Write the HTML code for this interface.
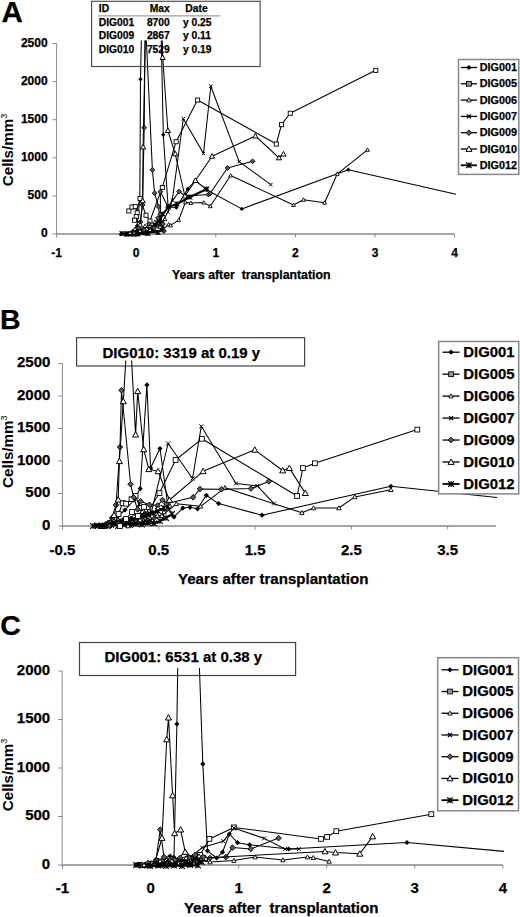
<!DOCTYPE html><html><head><meta charset="utf-8"><style>html,body{margin:0;padding:0;background:#fff;}svg{display:block;}</style></head><body>
<svg width="520" height="917" viewBox="0 0 520 917" font-family='"Liberation Sans", sans-serif'>
<rect width="520" height="917" fill="#fff"/>
<defs><clipPath id="cA"><rect x="56.6" y="40.5" width="399.5" height="195"/></clipPath><clipPath id="cB"><rect x="62.4" y="360.5" width="434.6" height="167"/></clipPath><clipPath id="cC"><rect x="62.2" y="668" width="441.8" height="199"/></clipPath></defs>
<text x="1.6" y="21.6" font-size="29.5" text-anchor="start" font-weight="bold" stroke="#000" stroke-width="0.25" >A</text>
<line x1="56.6" y1="43.5" x2="56.6" y2="234.5" stroke="#8a8a8a" stroke-width="1"/>
<line x1="52.6" y1="234.0" x2="56.6" y2="234.0" stroke="#8a8a8a" stroke-width="1"/>
<line x1="52.6" y1="195.9" x2="56.6" y2="195.9" stroke="#8a8a8a" stroke-width="1"/>
<line x1="52.6" y1="157.8" x2="56.6" y2="157.8" stroke="#8a8a8a" stroke-width="1"/>
<line x1="52.6" y1="119.69999999999999" x2="56.6" y2="119.69999999999999" stroke="#8a8a8a" stroke-width="1"/>
<line x1="52.6" y1="81.6" x2="56.6" y2="81.6" stroke="#8a8a8a" stroke-width="1"/>
<line x1="52.6" y1="43.5" x2="56.6" y2="43.5" stroke="#8a8a8a" stroke-width="1"/>
<text x="47.6" y="237.3" font-size="12" text-anchor="end" font-weight="bold" stroke="#000" stroke-width="0.25" >0</text>
<text x="47.6" y="199.20000000000002" font-size="12" text-anchor="end" font-weight="bold" stroke="#000" stroke-width="0.25" >500</text>
<text x="47.6" y="161.10000000000002" font-size="12" text-anchor="end" font-weight="bold" stroke="#000" stroke-width="0.25" >1000</text>
<text x="47.6" y="122.99999999999999" font-size="12" text-anchor="end" font-weight="bold" stroke="#000" stroke-width="0.25" >1500</text>
<text x="47.6" y="84.89999999999999" font-size="12" text-anchor="end" font-weight="bold" stroke="#000" stroke-width="0.25" >2000</text>
<text x="47.6" y="46.8" font-size="12" text-anchor="end" font-weight="bold" stroke="#000" stroke-width="0.25" >2500</text>
<line x1="56.6" y1="234" x2="454.6" y2="234" stroke="#888" stroke-width="1.4"/>
<line x1="56.599999999999994" y1="234" x2="56.599999999999994" y2="237.5" stroke="#8a8a8a" stroke-width="1"/>
<line x1="136.2" y1="234" x2="136.2" y2="237.5" stroke="#8a8a8a" stroke-width="1"/>
<line x1="215.79999999999998" y1="234" x2="215.79999999999998" y2="237.5" stroke="#8a8a8a" stroke-width="1"/>
<line x1="295.4" y1="234" x2="295.4" y2="237.5" stroke="#8a8a8a" stroke-width="1"/>
<line x1="375.0" y1="234" x2="375.0" y2="237.5" stroke="#8a8a8a" stroke-width="1"/>
<line x1="454.59999999999997" y1="234" x2="454.59999999999997" y2="237.5" stroke="#8a8a8a" stroke-width="1"/>
<text x="56.599999999999994" y="256.8" font-size="12" text-anchor="middle" font-weight="bold" stroke="#000" stroke-width="0.25" >-1</text>
<text x="136.2" y="256.8" font-size="12" text-anchor="middle" font-weight="bold" stroke="#000" stroke-width="0.25" >0</text>
<text x="215.79999999999998" y="256.8" font-size="12" text-anchor="middle" font-weight="bold" stroke="#000" stroke-width="0.25" >1</text>
<text x="295.4" y="256.8" font-size="12" text-anchor="middle" font-weight="bold" stroke="#000" stroke-width="0.25" >2</text>
<text x="375.0" y="256.8" font-size="12" text-anchor="middle" font-weight="bold" stroke="#000" stroke-width="0.25" >3</text>
<text x="454.59999999999997" y="256.8" font-size="12" text-anchor="middle" font-weight="bold" stroke="#000" stroke-width="0.25" >4</text>
<text x="251.2" y="278.5" font-size="12.3" text-anchor="middle" font-weight="bold" stroke="#000" stroke-width="0.25" >Years after&#160; transplantation</text>
<text transform="translate(12.6,150) rotate(-90)" font-size="15.2" font-weight="bold" text-anchor="middle">Cells/mm<tspan dy="-5.5" font-size="9" font-weight="normal">3</tspan></text>
<path d="M121.0 234.0 L127.0 233.5 L133.0 231.0 L137.0 226.0 L139.8 200.0 L140.5 79.3 L151.3 -429.0 L163.3 134.8 L168.1 206.9 L176.3 207.6 L187.7 188.9 L195.4 180.5 L206.9 190.0 L241.8 208.9 L348.3 169.7 L456.0 194.2" fill="none" stroke="#000" stroke-width="1.05" stroke-linejoin="round" clip-path="url(#cA)"/>
<path d="M118.8 234.0L121.0 231.8L123.2 234.0L121.0 236.2Z" fill="#000"/>
<path d="M124.8 233.5L127.0 231.3L129.2 233.5L127.0 235.7Z" fill="#000"/>
<path d="M130.8 231.0L133.0 228.8L135.2 231.0L133.0 233.2Z" fill="#000"/>
<path d="M134.8 226.0L137.0 223.8L139.2 226.0L137.0 228.2Z" fill="#000"/>
<path d="M137.6 200.0L139.8 197.8L142.0 200.0L139.8 202.2Z" fill="#000"/>
<path d="M138.3 79.3L140.5 77.1L142.7 79.3L140.5 81.5Z" fill="#000"/>
<path d="M161.1 134.8L163.3 132.6L165.5 134.8L163.3 137.0Z" fill="#000"/>
<path d="M165.9 206.9L168.1 204.7L170.3 206.9L168.1 209.1Z" fill="#000"/>
<path d="M174.1 207.6L176.3 205.4L178.5 207.6L176.3 209.8Z" fill="#000"/>
<path d="M185.5 188.9L187.7 186.7L189.9 188.9L187.7 191.1Z" fill="#000"/>
<path d="M193.2 180.5L195.4 178.3L197.6 180.5L195.4 182.7Z" fill="#000"/>
<path d="M204.7 190.0L206.9 187.8L209.1 190.0L206.9 192.2Z" fill="#000"/>
<path d="M239.6 208.9L241.8 206.7L244.0 208.9L241.8 211.1Z" fill="#000"/>
<path d="M346.1 169.7L348.3 167.5L350.5 169.7L348.3 171.9Z" fill="#000"/>
<path d="M128.8 210.9 L131.9 207.0 L135.2 206.5 L137.1 212.8 L136.2 216.6 L134.5 220.2 L140.0 198.4 L146.0 215.2 L149.9 221.0 L162.3 187.4 L176.1 141.7 L197.5 100.0 L276.3 144.0 L281.5 124.6 L290.2 113.2 L375.7 70.3" fill="none" stroke="#000" stroke-width="1.05" stroke-linejoin="round" clip-path="url(#cA)"/>
<rect x="126.8" y="208.9" width="4.1" height="4.1" fill="#fff" stroke="#000" stroke-width="0.9"/>
<rect x="129.9" y="205.0" width="4.1" height="4.1" fill="#fff" stroke="#000" stroke-width="0.9"/>
<rect x="133.2" y="204.5" width="4.1" height="4.1" fill="#fff" stroke="#000" stroke-width="0.9"/>
<rect x="135.1" y="210.8" width="4.1" height="4.1" fill="#fff" stroke="#000" stroke-width="0.9"/>
<rect x="134.2" y="214.6" width="4.1" height="4.1" fill="#fff" stroke="#000" stroke-width="0.9"/>
<rect x="132.5" y="218.2" width="4.1" height="4.1" fill="#fff" stroke="#000" stroke-width="0.9"/>
<rect x="138.0" y="196.4" width="4.1" height="4.1" fill="#fff" stroke="#000" stroke-width="0.9"/>
<rect x="144.0" y="213.2" width="4.1" height="4.1" fill="#fff" stroke="#000" stroke-width="0.9"/>
<rect x="147.9" y="219.0" width="4.1" height="4.1" fill="#fff" stroke="#000" stroke-width="0.9"/>
<rect x="160.3" y="185.4" width="4.1" height="4.1" fill="#fff" stroke="#000" stroke-width="0.9"/>
<rect x="174.1" y="139.7" width="4.1" height="4.1" fill="#fff" stroke="#000" stroke-width="0.9"/>
<rect x="195.5" y="98.0" width="4.1" height="4.1" fill="#fff" stroke="#000" stroke-width="0.9"/>
<rect x="274.3" y="142.0" width="4.1" height="4.1" fill="#fff" stroke="#000" stroke-width="0.9"/>
<rect x="279.5" y="122.6" width="4.1" height="4.1" fill="#fff" stroke="#000" stroke-width="0.9"/>
<rect x="288.2" y="111.2" width="4.1" height="4.1" fill="#fff" stroke="#000" stroke-width="0.9"/>
<rect x="373.7" y="68.3" width="4.1" height="4.1" fill="#fff" stroke="#000" stroke-width="0.9"/>
<path d="M138.0 234.0 L145.0 232.0 L152.0 231.0 L162.3 230.2 L168.6 224.4 L170.5 225.4 L178.7 220.1 L185.4 202.3 L190.8 203.0 L203.8 202.6 L210.3 206.2 L230.6 175.5 L293.5 205.0 L303.5 199.8 L324.6 202.7 L337.3 173.8 L367.5 149.8" fill="none" stroke="#000" stroke-width="1.05" stroke-linejoin="round" clip-path="url(#cA)"/>
<path d="M136.1 235.5L138.0 232.1L139.9 235.5Z" fill="#fff" stroke="#000" stroke-width="0.9"/>
<path d="M143.1 233.5L145.0 230.1L146.9 233.5Z" fill="#fff" stroke="#000" stroke-width="0.9"/>
<path d="M150.1 232.5L152.0 229.1L153.9 232.5Z" fill="#fff" stroke="#000" stroke-width="0.9"/>
<path d="M160.4 231.7L162.3 228.3L164.2 231.7Z" fill="#fff" stroke="#000" stroke-width="0.9"/>
<path d="M166.7 225.9L168.6 222.5L170.5 225.9Z" fill="#fff" stroke="#000" stroke-width="0.9"/>
<path d="M168.6 226.9L170.5 223.5L172.4 226.9Z" fill="#fff" stroke="#000" stroke-width="0.9"/>
<path d="M176.8 221.6L178.7 218.2L180.6 221.6Z" fill="#fff" stroke="#000" stroke-width="0.9"/>
<path d="M183.5 203.8L185.4 200.4L187.3 203.8Z" fill="#fff" stroke="#000" stroke-width="0.9"/>
<path d="M188.9 204.5L190.8 201.1L192.7 204.5Z" fill="#fff" stroke="#000" stroke-width="0.9"/>
<path d="M201.9 204.1L203.8 200.7L205.7 204.1Z" fill="#fff" stroke="#000" stroke-width="0.9"/>
<path d="M208.4 207.7L210.3 204.3L212.2 207.7Z" fill="#fff" stroke="#000" stroke-width="0.9"/>
<path d="M228.7 177.0L230.6 173.6L232.5 177.0Z" fill="#fff" stroke="#000" stroke-width="0.9"/>
<path d="M291.6 206.5L293.5 203.1L295.4 206.5Z" fill="#fff" stroke="#000" stroke-width="0.9"/>
<path d="M301.6 201.3L303.5 197.9L305.4 201.3Z" fill="#fff" stroke="#000" stroke-width="0.9"/>
<path d="M322.7 204.2L324.6 200.8L326.5 204.2Z" fill="#fff" stroke="#000" stroke-width="0.9"/>
<path d="M335.4 175.3L337.3 171.9L339.2 175.3Z" fill="#fff" stroke="#000" stroke-width="0.9"/>
<path d="M365.6 151.3L367.5 147.9L369.4 151.3Z" fill="#fff" stroke="#000" stroke-width="0.9"/>
<path d="M128.0 234.0 L135.0 233.5 L142.0 232.5 L150.0 230.0 L156.0 226.0 L162.0 222.0 L168.0 212.0 L172.3 200.0 L183.3 118.7 L203.5 153.6 L210.8 86.2 L239.2 161.6 L270.8 184.6" fill="none" stroke="#000" stroke-width="1.05" stroke-linejoin="round" clip-path="url(#cA)"/>
<path d="M126.3 232.3L129.7 235.7M126.3 235.7L129.7 232.3" stroke="#000" stroke-width="1"/>
<path d="M133.3 231.8L136.7 235.2M133.3 235.2L136.7 231.8" stroke="#000" stroke-width="1"/>
<path d="M140.3 230.8L143.7 234.2M140.3 234.2L143.7 230.8" stroke="#000" stroke-width="1"/>
<path d="M148.3 228.3L151.7 231.7M148.3 231.7L151.7 228.3" stroke="#000" stroke-width="1"/>
<path d="M154.3 224.3L157.7 227.7M154.3 227.7L157.7 224.3" stroke="#000" stroke-width="1"/>
<path d="M160.3 220.3L163.7 223.7M160.3 223.7L163.7 220.3" stroke="#000" stroke-width="1"/>
<path d="M166.3 210.3L169.7 213.7M166.3 213.7L169.7 210.3" stroke="#000" stroke-width="1"/>
<path d="M170.6 198.3L174.0 201.7M170.6 201.7L174.0 198.3" stroke="#000" stroke-width="1"/>
<path d="M181.6 117.0L185.0 120.4M181.6 120.4L185.0 117.0" stroke="#000" stroke-width="1"/>
<path d="M201.8 151.9L205.2 155.3M201.8 155.3L205.2 151.9" stroke="#000" stroke-width="1"/>
<path d="M209.1 84.5L212.5 87.9M209.1 87.9L212.5 84.5" stroke="#000" stroke-width="1"/>
<path d="M237.5 159.9L240.9 163.3M237.5 163.3L240.9 159.9" stroke="#000" stroke-width="1"/>
<path d="M269.1 182.9L272.5 186.3M269.1 186.3L272.5 182.9" stroke="#000" stroke-width="1"/>
<path d="M126.0 234.0 L132.0 233.0 L137.0 229.0 L140.5 222.0 L142.5 205.0 L144.2 127.7 L145.2 15.5 L152.4 169.9 L154.6 193.2 L158.5 206.6 L160.4 226.3 L164.0 231.0 L160.4 214.3 L160.4 191.7 L168.1 206.9 L179.1 191.5 L185.4 196.2 L208.5 194.6 L210.2 193.3 L227.5 168.0 L252.6 161.3" fill="none" stroke="#000" stroke-width="1.05" stroke-linejoin="round" clip-path="url(#cA)"/>
<path d="M123.6 234.0L126.0 231.6L128.4 234.0L126.0 236.4Z" fill="#5a5a5a" stroke="#000" stroke-width="0.9"/>
<path d="M129.6 233.0L132.0 230.6L134.4 233.0L132.0 235.4Z" fill="#5a5a5a" stroke="#000" stroke-width="0.9"/>
<path d="M134.6 229.0L137.0 226.6L139.4 229.0L137.0 231.4Z" fill="#5a5a5a" stroke="#000" stroke-width="0.9"/>
<path d="M138.1 222.0L140.5 219.6L142.9 222.0L140.5 224.4Z" fill="#5a5a5a" stroke="#000" stroke-width="0.9"/>
<path d="M140.1 205.0L142.5 202.6L144.9 205.0L142.5 207.4Z" fill="#5a5a5a" stroke="#000" stroke-width="0.9"/>
<path d="M141.8 127.7L144.2 125.3L146.6 127.7L144.2 130.1Z" fill="#5a5a5a" stroke="#000" stroke-width="0.9"/>
<path d="M150.0 169.9L152.4 167.5L154.8 169.9L152.4 172.3Z" fill="#5a5a5a" stroke="#000" stroke-width="0.9"/>
<path d="M152.2 193.2L154.6 190.8L157.0 193.2L154.6 195.6Z" fill="#5a5a5a" stroke="#000" stroke-width="0.9"/>
<path d="M156.1 206.6L158.5 204.2L160.9 206.6L158.5 209.0Z" fill="#5a5a5a" stroke="#000" stroke-width="0.9"/>
<path d="M158.0 226.3L160.4 223.9L162.8 226.3L160.4 228.7Z" fill="#5a5a5a" stroke="#000" stroke-width="0.9"/>
<path d="M161.6 231.0L164.0 228.6L166.4 231.0L164.0 233.4Z" fill="#5a5a5a" stroke="#000" stroke-width="0.9"/>
<path d="M158.0 214.3L160.4 211.9L162.8 214.3L160.4 216.7Z" fill="#5a5a5a" stroke="#000" stroke-width="0.9"/>
<path d="M158.0 191.7L160.4 189.3L162.8 191.7L160.4 194.1Z" fill="#5a5a5a" stroke="#000" stroke-width="0.9"/>
<path d="M165.7 206.9L168.1 204.5L170.5 206.9L168.1 209.3Z" fill="#5a5a5a" stroke="#000" stroke-width="0.9"/>
<path d="M176.7 191.5L179.1 189.1L181.5 191.5L179.1 193.9Z" fill="#5a5a5a" stroke="#000" stroke-width="0.9"/>
<path d="M183.0 196.2L185.4 193.8L187.8 196.2L185.4 198.6Z" fill="#5a5a5a" stroke="#000" stroke-width="0.9"/>
<path d="M206.1 194.6L208.5 192.2L210.9 194.6L208.5 197.0Z" fill="#5a5a5a" stroke="#000" stroke-width="0.9"/>
<path d="M207.8 193.3L210.2 190.9L212.6 193.3L210.2 195.7Z" fill="#5a5a5a" stroke="#000" stroke-width="0.9"/>
<path d="M225.1 168.0L227.5 165.6L229.9 168.0L227.5 170.4Z" fill="#5a5a5a" stroke="#000" stroke-width="0.9"/>
<path d="M250.2 161.3L252.6 158.9L255.0 161.3L252.6 163.7Z" fill="#5a5a5a" stroke="#000" stroke-width="0.9"/>
<path d="M133.0 234.0 L137.0 232.0 L140.0 225.0 L142.7 200.8 L143.1 147.0 L153.0 -340.0 L162.7 57.5 L167.9 130.5 L175.2 153.8 L184.9 196.0 L195.4 180.5 L212.1 156.2 L255.4 136.0 L279.0 157.8 L283.5 154.0" fill="none" stroke="#000" stroke-width="1.05" stroke-linejoin="round" clip-path="url(#cA)"/>
<path d="M130.4 236.0L133.0 231.4L135.6 236.0Z" fill="#fff" stroke="#000" stroke-width="1"/>
<path d="M134.4 234.0L137.0 229.4L139.6 234.0Z" fill="#fff" stroke="#000" stroke-width="1"/>
<path d="M137.4 227.0L140.0 222.4L142.6 227.0Z" fill="#fff" stroke="#000" stroke-width="1"/>
<path d="M140.1 202.8L142.7 198.2L145.2 202.8Z" fill="#fff" stroke="#000" stroke-width="1"/>
<path d="M140.5 149.0L143.1 144.4L145.7 149.0Z" fill="#fff" stroke="#000" stroke-width="1"/>
<path d="M160.1 59.5L162.7 55.0L165.2 59.5Z" fill="#fff" stroke="#000" stroke-width="1"/>
<path d="M165.3 132.5L167.9 128.0L170.5 132.5Z" fill="#fff" stroke="#000" stroke-width="1"/>
<path d="M172.6 155.8L175.2 151.2L177.8 155.8Z" fill="#fff" stroke="#000" stroke-width="1"/>
<path d="M182.3 198.0L184.9 193.4L187.5 198.0Z" fill="#fff" stroke="#000" stroke-width="1"/>
<path d="M192.8 182.5L195.4 177.9L198.0 182.5Z" fill="#fff" stroke="#000" stroke-width="1"/>
<path d="M209.5 158.2L212.1 153.6L214.7 158.2Z" fill="#fff" stroke="#000" stroke-width="1"/>
<path d="M252.8 138.0L255.4 133.4L257.9 138.0Z" fill="#fff" stroke="#000" stroke-width="1"/>
<path d="M276.4 159.8L279.0 155.2L281.6 159.8Z" fill="#fff" stroke="#000" stroke-width="1"/>
<path d="M280.9 156.0L283.5 151.4L286.1 156.0Z" fill="#fff" stroke="#000" stroke-width="1"/>
<path d="M122.0 233.5 L126.8 234.0 L131.0 233.5 L136.0 232.0 L141.0 231.0 L145.0 233.0 L150.0 229.0 L155.0 225.0 L159.2 220.8 L163.0 214.0 L168.5 206.9 L176.9 204.0 L190.0 197.0 L206.9 189.0" fill="none" stroke="#000" stroke-width="2.0" stroke-linejoin="round" clip-path="url(#cA)"/>
<path d="M119.6 231.1L124.4 235.9M119.6 235.9L124.4 231.1M122.0 231.1L122.0 235.9" stroke="#000" stroke-width="1.2"/>
<path d="M124.4 231.6L129.2 236.4M124.4 236.4L129.2 231.6M126.8 231.6L126.8 236.4" stroke="#000" stroke-width="1.2"/>
<path d="M128.6 231.1L133.4 235.9M128.6 235.9L133.4 231.1M131.0 231.1L131.0 235.9" stroke="#000" stroke-width="1.2"/>
<path d="M133.6 229.6L138.4 234.4M133.6 234.4L138.4 229.6M136.0 229.6L136.0 234.4" stroke="#000" stroke-width="1.2"/>
<path d="M138.6 228.6L143.4 233.4M138.6 233.4L143.4 228.6M141.0 228.6L141.0 233.4" stroke="#000" stroke-width="1.2"/>
<path d="M142.6 230.6L147.4 235.4M142.6 235.4L147.4 230.6M145.0 230.6L145.0 235.4" stroke="#000" stroke-width="1.2"/>
<path d="M147.6 226.6L152.4 231.4M147.6 231.4L152.4 226.6M150.0 226.6L150.0 231.4" stroke="#000" stroke-width="1.2"/>
<path d="M152.6 222.6L157.4 227.4M152.6 227.4L157.4 222.6M155.0 222.6L155.0 227.4" stroke="#000" stroke-width="1.2"/>
<path d="M156.8 218.4L161.6 223.2M156.8 223.2L161.6 218.4M159.2 218.4L159.2 223.2" stroke="#000" stroke-width="1.2"/>
<path d="M160.6 211.6L165.4 216.4M160.6 216.4L165.4 211.6M163.0 211.6L163.0 216.4" stroke="#000" stroke-width="1.2"/>
<path d="M166.1 204.5L170.9 209.3M166.1 209.3L170.9 204.5M168.5 204.5L168.5 209.3" stroke="#000" stroke-width="1.2"/>
<path d="M174.5 201.6L179.3 206.4M174.5 206.4L179.3 201.6M176.9 201.6L176.9 206.4" stroke="#000" stroke-width="1.2"/>
<path d="M187.6 194.6L192.4 199.4M187.6 199.4L192.4 194.6M190.0 194.6L190.0 199.4" stroke="#000" stroke-width="1.2"/>
<path d="M204.5 186.6L209.3 191.4M204.5 191.4L209.3 186.6M206.9 186.6L206.9 191.4" stroke="#000" stroke-width="1.2"/>
<path d="M128.0 234.0 L133.0 233.5 L138.0 234.0 L143.0 232.5 L148.0 233.5 L153.0 231.0 L158.0 232.5 L162.0 229.0" fill="none" stroke="#000" stroke-width="2.0" stroke-linejoin="round" clip-path="url(#cA)"/>
<path d="M125.6 231.6L130.4 236.4M125.6 236.4L130.4 231.6M128.0 231.6L128.0 236.4" stroke="#000" stroke-width="1.2"/>
<path d="M130.6 231.1L135.4 235.9M130.6 235.9L135.4 231.1M133.0 231.1L133.0 235.9" stroke="#000" stroke-width="1.2"/>
<path d="M135.6 231.6L140.4 236.4M135.6 236.4L140.4 231.6M138.0 231.6L138.0 236.4" stroke="#000" stroke-width="1.2"/>
<path d="M140.6 230.1L145.4 234.9M140.6 234.9L145.4 230.1M143.0 230.1L143.0 234.9" stroke="#000" stroke-width="1.2"/>
<path d="M145.6 231.1L150.4 235.9M145.6 235.9L150.4 231.1M148.0 231.1L148.0 235.9" stroke="#000" stroke-width="1.2"/>
<path d="M150.6 228.6L155.4 233.4M150.6 233.4L155.4 228.6M153.0 228.6L153.0 233.4" stroke="#000" stroke-width="1.2"/>
<path d="M155.6 230.1L160.4 234.9M155.6 234.9L160.4 230.1M158.0 230.1L158.0 234.9" stroke="#000" stroke-width="1.2"/>
<path d="M159.6 226.6L164.4 231.4M159.6 231.4L164.4 226.6M162.0 226.6L162.0 231.4" stroke="#000" stroke-width="1.2"/>
<path d="M130.0 233.0 L135.0 229.0 L140.0 231.0 L145.0 226.0 L150.0 230.0 L155.0 222.0 L160.0 227.0 L165.0 219.0" fill="none" stroke="#000" stroke-width="1.05" stroke-linejoin="round" clip-path="url(#cA)"/>
<path d="M128.1 234.5L130.0 231.1L131.9 234.5Z" fill="#fff" stroke="#000" stroke-width="0.9"/>
<path d="M133.1 230.5L135.0 227.1L136.9 230.5Z" fill="#fff" stroke="#000" stroke-width="0.9"/>
<path d="M138.1 232.5L140.0 229.1L141.9 232.5Z" fill="#fff" stroke="#000" stroke-width="0.9"/>
<path d="M143.1 227.5L145.0 224.1L146.9 227.5Z" fill="#fff" stroke="#000" stroke-width="0.9"/>
<path d="M148.1 231.5L150.0 228.1L151.9 231.5Z" fill="#fff" stroke="#000" stroke-width="0.9"/>
<path d="M153.1 223.5L155.0 220.1L156.9 223.5Z" fill="#fff" stroke="#000" stroke-width="0.9"/>
<path d="M158.1 228.5L160.0 225.1L161.9 228.5Z" fill="#fff" stroke="#000" stroke-width="0.9"/>
<path d="M163.1 220.5L165.0 217.1L166.9 220.5Z" fill="#fff" stroke="#000" stroke-width="0.9"/>
<path d="M134.0 233.0 L139.0 228.0 L144.0 230.0 L149.0 224.0 L154.0 228.0 L158.0 218.0 L163.0 224.0" fill="none" stroke="#000" stroke-width="1.05" stroke-linejoin="round" clip-path="url(#cA)"/>
<path d="M131.6 233.0L134.0 230.6L136.4 233.0L134.0 235.4Z" fill="#5a5a5a" stroke="#000" stroke-width="0.9"/>
<path d="M136.6 228.0L139.0 225.6L141.4 228.0L139.0 230.4Z" fill="#5a5a5a" stroke="#000" stroke-width="0.9"/>
<path d="M141.6 230.0L144.0 227.6L146.4 230.0L144.0 232.4Z" fill="#5a5a5a" stroke="#000" stroke-width="0.9"/>
<path d="M146.6 224.0L149.0 221.6L151.4 224.0L149.0 226.4Z" fill="#5a5a5a" stroke="#000" stroke-width="0.9"/>
<path d="M151.6 228.0L154.0 225.6L156.4 228.0L154.0 230.4Z" fill="#5a5a5a" stroke="#000" stroke-width="0.9"/>
<path d="M155.6 218.0L158.0 215.6L160.4 218.0L158.0 220.4Z" fill="#5a5a5a" stroke="#000" stroke-width="0.9"/>
<path d="M160.6 224.0L163.0 221.6L165.4 224.0L163.0 226.4Z" fill="#5a5a5a" stroke="#000" stroke-width="0.9"/>
<rect x="91.6" y="1.3" width="168.5" height="65.2" stroke="#4a4a4a" stroke-width="1.15" fill="none"/>
<line x1="98" y1="15.9" x2="220.5" y2="15.9" stroke="#888" stroke-width="1"/>
<text x="98.8" y="11.8" font-size="10.3" text-anchor="start" font-weight="bold" stroke="#000" stroke-width="0.25" >ID</text>
<text x="169.8" y="11.8" font-size="10.3" text-anchor="end" font-weight="bold" stroke="#000" stroke-width="0.25" >Max</text>
<text x="185.3" y="11.8" font-size="10.3" text-anchor="start" font-weight="bold" stroke="#000" stroke-width="0.25" >Date</text>
<text x="98.8" y="25.6" font-size="10.3" text-anchor="start" font-weight="bold" stroke="#000" stroke-width="0.25" >DIG001</text>
<text x="169.8" y="25.6" font-size="10.3" text-anchor="end" font-weight="bold" stroke="#000" stroke-width="0.25" >8700</text>
<text x="182.9" y="25.6" font-size="10.3" text-anchor="start" font-weight="bold" stroke="#000" stroke-width="0.25" >y&#160;0.25</text>
<text x="98.8" y="38.9" font-size="10.3" text-anchor="start" font-weight="bold" stroke="#000" stroke-width="0.25" >DIG009</text>
<text x="169.8" y="38.9" font-size="10.3" text-anchor="end" font-weight="bold" stroke="#000" stroke-width="0.25" >2867</text>
<text x="182.9" y="38.9" font-size="10.3" text-anchor="start" font-weight="bold" stroke="#000" stroke-width="0.25" >y&#160;0.11</text>
<text x="98.8" y="52.8" font-size="10.3" text-anchor="start" font-weight="bold" stroke="#000" stroke-width="0.25" >DIG010</text>
<text x="169.8" y="52.8" font-size="10.3" text-anchor="end" font-weight="bold" stroke="#000" stroke-width="0.25" >7529</text>
<text x="182.9" y="52.8" font-size="10.3" text-anchor="start" font-weight="bold" stroke="#000" stroke-width="0.25" >y&#160;0.19</text>
<rect x="458.5" y="59.5" width="60.299999999999955" height="114.9" stroke="#888" stroke-width="1.5" fill="#fff"/>
<line x1="460.8" y1="67.5" x2="477" y2="67.5" stroke="#000" stroke-width="1.3"/>
<path d="M466.3 67.5L468.9 64.9L471.5 67.5L468.9 70.1Z" fill="#000"/>
<text x="479.7" y="71.06400000000001" font-size="10.8" text-anchor="start" font-weight="bold" stroke="#000" stroke-width="0.25" >DIG001</text>
<line x1="460.8" y1="83.8" x2="477" y2="83.8" stroke="#000" stroke-width="1.3"/>
<rect x="466.5" y="81.4" width="4.8" height="4.8" fill="#999" stroke="#000" stroke-width="0.9"/>
<text x="479.7" y="87.364" font-size="10.8" text-anchor="start" font-weight="bold" stroke="#000" stroke-width="0.25" >DIG005</text>
<line x1="460.8" y1="100.1" x2="477" y2="100.1" stroke="#000" stroke-width="1.3"/>
<path d="M466.7 101.9L468.9 97.9L471.1 101.9Z" fill="#fff" stroke="#000" stroke-width="0.9"/>
<text x="479.7" y="103.664" font-size="10.8" text-anchor="start" font-weight="bold" stroke="#000" stroke-width="0.25" >DIG006</text>
<line x1="460.8" y1="116.4" x2="477" y2="116.4" stroke="#000" stroke-width="1.3"/>
<path d="M466.9 114.4L470.9 118.4M466.9 118.4L470.9 114.4" stroke="#000" stroke-width="1.3"/>
<text x="479.7" y="119.96400000000001" font-size="10.8" text-anchor="start" font-weight="bold" stroke="#000" stroke-width="0.25" >DIG007</text>
<line x1="460.8" y1="132.7" x2="477" y2="132.7" stroke="#000" stroke-width="1.3"/>
<path d="M466.1 132.7L468.9 129.9L471.7 132.7L468.9 135.5Z" fill="#5a5a5a" stroke="#000" stroke-width="0.9"/>
<text x="479.7" y="136.26399999999998" font-size="10.8" text-anchor="start" font-weight="bold" stroke="#000" stroke-width="0.25" >DIG009</text>
<line x1="460.8" y1="149.0" x2="477" y2="149.0" stroke="#000" stroke-width="1.3"/>
<path d="M465.9 151.4L468.9 146.0L471.9 151.4Z" fill="#fff" stroke="#000" stroke-width="1"/>
<text x="479.7" y="152.564" font-size="10.8" text-anchor="start" font-weight="bold" stroke="#000" stroke-width="0.25" >DIG010</text>
<line x1="460.8" y1="165.3" x2="477" y2="165.3" stroke="#000" stroke-width="1.8"/>
<path d="M466.1 162.5L471.7 168.1M466.1 168.1L471.7 162.5M468.9 162.5L468.9 168.1" stroke="#000" stroke-width="1.2"/>
<text x="479.7" y="168.864" font-size="10.8" text-anchor="start" font-weight="bold" stroke="#000" stroke-width="0.25" >DIG012</text>
<text x="0" y="329.4" font-size="28.5" text-anchor="start" font-weight="bold" stroke="#000" stroke-width="0.25" >B</text>
<line x1="62.4" y1="363.5" x2="62.4" y2="526.5" stroke="#8a8a8a" stroke-width="1"/>
<line x1="58.4" y1="526.0" x2="62.4" y2="526.0" stroke="#8a8a8a" stroke-width="1"/>
<line x1="58.4" y1="493.5" x2="62.4" y2="493.5" stroke="#8a8a8a" stroke-width="1"/>
<line x1="58.4" y1="461.0" x2="62.4" y2="461.0" stroke="#8a8a8a" stroke-width="1"/>
<line x1="58.4" y1="428.5" x2="62.4" y2="428.5" stroke="#8a8a8a" stroke-width="1"/>
<line x1="58.4" y1="396.0" x2="62.4" y2="396.0" stroke="#8a8a8a" stroke-width="1"/>
<line x1="58.4" y1="363.5" x2="62.4" y2="363.5" stroke="#8a8a8a" stroke-width="1"/>
<text x="50.4" y="529.6" font-size="15" text-anchor="end" font-weight="bold" stroke="#000" stroke-width="0.25" >0</text>
<text x="50.4" y="497.1" font-size="15" text-anchor="end" font-weight="bold" stroke="#000" stroke-width="0.25" >500</text>
<text x="50.4" y="464.6" font-size="15" text-anchor="end" font-weight="bold" stroke="#000" stroke-width="0.25" >1000</text>
<text x="50.4" y="432.1" font-size="15" text-anchor="end" font-weight="bold" stroke="#000" stroke-width="0.25" >1500</text>
<text x="50.4" y="399.6" font-size="15" text-anchor="end" font-weight="bold" stroke="#000" stroke-width="0.25" >2000</text>
<text x="50.4" y="367.1" font-size="15" text-anchor="end" font-weight="bold" stroke="#000" stroke-width="0.25" >2500</text>
<line x1="62.4" y1="526" x2="495.9" y2="526" stroke="#888" stroke-width="1.4"/>
<line x1="62.5" y1="526" x2="62.5" y2="529.5" stroke="#8a8a8a" stroke-width="1"/>
<line x1="158.8" y1="526" x2="158.8" y2="529.5" stroke="#8a8a8a" stroke-width="1"/>
<line x1="255.1" y1="526" x2="255.1" y2="529.5" stroke="#8a8a8a" stroke-width="1"/>
<line x1="351.4" y1="526" x2="351.4" y2="529.5" stroke="#8a8a8a" stroke-width="1"/>
<line x1="447.7" y1="526" x2="447.7" y2="529.5" stroke="#8a8a8a" stroke-width="1"/>
<text x="62.5" y="554.5" font-size="15" text-anchor="middle" font-weight="bold" stroke="#000" stroke-width="0.25" >-0.5</text>
<text x="158.8" y="554.5" font-size="15" text-anchor="middle" font-weight="bold" stroke="#000" stroke-width="0.25" >0.5</text>
<text x="255.1" y="554.5" font-size="15" text-anchor="middle" font-weight="bold" stroke="#000" stroke-width="0.25" >1.5</text>
<text x="351.4" y="554.5" font-size="15" text-anchor="middle" font-weight="bold" stroke="#000" stroke-width="0.25" >2.5</text>
<text x="447.7" y="554.5" font-size="15" text-anchor="middle" font-weight="bold" stroke="#000" stroke-width="0.25" >3.5</text>
<text x="273.2" y="584" font-size="15.1" text-anchor="middle" font-weight="bold" stroke="#000" stroke-width="0.25" >Years after transplantation</text>
<text transform="translate(12.6,451.7) rotate(-90)" font-size="15.2" font-weight="bold" text-anchor="middle">Cells/mm<tspan dy="-5.5" font-size="9" font-weight="normal">3</tspan></text>
<rect x="76.6" y="337.7" width="228" height="28.3" stroke="#444" stroke-width="1.2" fill="#fff"/>
<path d="M96.0 526.0 L103.0 525.5 L110.0 523.0 L117.0 517.0 L125.0 510.0 L134.0 500.0 L140.2 488.6 L146.9 384.9 L150.6 468.1 L160.0 448.5 L168.1 507.5 L174.0 516.9 L182.8 508.1 L190.0 507.3 L197.5 508.8 L206.3 495.3 L218.6 503.6 L262.0 515.2 L390.9 486.3 L497.0 497.6" fill="none" stroke="#000" stroke-width="1.05" stroke-linejoin="round" clip-path="url(#cB)"/>
<path d="M93.4 526.0L96.0 523.4L98.6 526.0L96.0 528.6Z" fill="#000"/>
<path d="M100.4 525.5L103.0 522.9L105.6 525.5L103.0 528.1Z" fill="#000"/>
<path d="M107.4 523.0L110.0 520.4L112.6 523.0L110.0 525.6Z" fill="#000"/>
<path d="M114.4 517.0L117.0 514.4L119.6 517.0L117.0 519.6Z" fill="#000"/>
<path d="M122.4 510.0L125.0 507.4L127.6 510.0L125.0 512.6Z" fill="#000"/>
<path d="M131.4 500.0L134.0 497.4L136.6 500.0L134.0 502.6Z" fill="#000"/>
<path d="M137.6 488.6L140.2 486.0L142.8 488.6L140.2 491.2Z" fill="#000"/>
<path d="M144.3 384.9L146.9 382.3L149.5 384.9L146.9 387.5Z" fill="#000"/>
<path d="M148.0 468.1L150.6 465.5L153.2 468.1L150.6 470.7Z" fill="#000"/>
<path d="M157.4 448.5L160.0 445.9L162.6 448.5L160.0 451.1Z" fill="#000"/>
<path d="M165.5 507.5L168.1 504.9L170.7 507.5L168.1 510.1Z" fill="#000"/>
<path d="M171.4 516.9L174.0 514.3L176.6 516.9L174.0 519.5Z" fill="#000"/>
<path d="M180.2 508.1L182.8 505.5L185.4 508.1L182.8 510.7Z" fill="#000"/>
<path d="M187.4 507.3L190.0 504.7L192.6 507.3L190.0 509.9Z" fill="#000"/>
<path d="M194.9 508.8L197.5 506.2L200.1 508.8L197.5 511.4Z" fill="#000"/>
<path d="M203.7 495.3L206.3 492.7L208.9 495.3L206.3 497.9Z" fill="#000"/>
<path d="M216.0 503.6L218.6 501.0L221.2 503.6L218.6 506.2Z" fill="#000"/>
<path d="M259.4 515.2L262.0 512.6L264.6 515.2L262.0 517.8Z" fill="#000"/>
<path d="M388.3 486.3L390.9 483.7L393.5 486.3L390.9 488.9Z" fill="#000"/>
<path d="M104.0 526.0 L110.0 523.0 L114.0 519.0 L118.6 514.0 L122.6 503.1 L126.1 503.7 L131.5 499.2 L135.6 495.8 L140.0 508.0 L148.0 512.0 L159.4 493.1 L175.6 460.0 L201.9 438.8 L297.1 496.0 L302.9 468.1 L314.9 463.3 L417.3 429.6" fill="none" stroke="#000" stroke-width="1.05" stroke-linejoin="round" clip-path="url(#cB)"/>
<rect x="101.6" y="523.6" width="4.8" height="4.8" fill="#fff" stroke="#000" stroke-width="0.9"/>
<rect x="107.6" y="520.6" width="4.8" height="4.8" fill="#fff" stroke="#000" stroke-width="0.9"/>
<rect x="111.6" y="516.6" width="4.8" height="4.8" fill="#fff" stroke="#000" stroke-width="0.9"/>
<rect x="116.2" y="511.6" width="4.8" height="4.8" fill="#fff" stroke="#000" stroke-width="0.9"/>
<rect x="120.2" y="500.7" width="4.8" height="4.8" fill="#fff" stroke="#000" stroke-width="0.9"/>
<rect x="123.7" y="501.3" width="4.8" height="4.8" fill="#fff" stroke="#000" stroke-width="0.9"/>
<rect x="129.1" y="496.8" width="4.8" height="4.8" fill="#fff" stroke="#000" stroke-width="0.9"/>
<rect x="133.2" y="493.4" width="4.8" height="4.8" fill="#fff" stroke="#000" stroke-width="0.9"/>
<rect x="137.6" y="505.6" width="4.8" height="4.8" fill="#fff" stroke="#000" stroke-width="0.9"/>
<rect x="145.6" y="509.6" width="4.8" height="4.8" fill="#fff" stroke="#000" stroke-width="0.9"/>
<rect x="157.0" y="490.7" width="4.8" height="4.8" fill="#fff" stroke="#000" stroke-width="0.9"/>
<rect x="173.2" y="457.6" width="4.8" height="4.8" fill="#fff" stroke="#000" stroke-width="0.9"/>
<rect x="199.5" y="436.4" width="4.8" height="4.8" fill="#fff" stroke="#000" stroke-width="0.9"/>
<rect x="294.7" y="493.6" width="4.8" height="4.8" fill="#fff" stroke="#000" stroke-width="0.9"/>
<rect x="300.5" y="465.7" width="4.8" height="4.8" fill="#fff" stroke="#000" stroke-width="0.9"/>
<rect x="312.5" y="460.9" width="4.8" height="4.8" fill="#fff" stroke="#000" stroke-width="0.9"/>
<rect x="414.9" y="427.2" width="4.8" height="4.8" fill="#fff" stroke="#000" stroke-width="0.9"/>
<path d="M108.0 526.0 L114.0 524.0 L120.0 523.0 L126.0 521.0 L132.0 521.0 L138.0 519.0 L145.0 518.0 L152.5 520.0 L157.5 515.6 L161.9 515.6 L176.3 503.8 L200.6 506.3 L225.0 487.8 L301.9 512.8 L313.5 508.0 L338.9 508.0 L354.8 496.9 L390.9 489.7" fill="none" stroke="#000" stroke-width="1.05" stroke-linejoin="round" clip-path="url(#cB)"/>
<path d="M105.8 527.8L108.0 523.8L110.2 527.8Z" fill="#fff" stroke="#000" stroke-width="0.9"/>
<path d="M111.8 525.8L114.0 521.8L116.2 525.8Z" fill="#fff" stroke="#000" stroke-width="0.9"/>
<path d="M117.8 524.8L120.0 520.8L122.2 524.8Z" fill="#fff" stroke="#000" stroke-width="0.9"/>
<path d="M123.8 522.8L126.0 518.8L128.2 522.8Z" fill="#fff" stroke="#000" stroke-width="0.9"/>
<path d="M129.8 522.8L132.0 518.8L134.2 522.8Z" fill="#fff" stroke="#000" stroke-width="0.9"/>
<path d="M135.8 520.8L138.0 516.8L140.2 520.8Z" fill="#fff" stroke="#000" stroke-width="0.9"/>
<path d="M142.8 519.8L145.0 515.8L147.2 519.8Z" fill="#fff" stroke="#000" stroke-width="0.9"/>
<path d="M150.3 521.8L152.5 517.8L154.7 521.8Z" fill="#fff" stroke="#000" stroke-width="0.9"/>
<path d="M155.3 517.4L157.5 513.4L159.7 517.4Z" fill="#fff" stroke="#000" stroke-width="0.9"/>
<path d="M159.7 517.4L161.9 513.4L164.1 517.4Z" fill="#fff" stroke="#000" stroke-width="0.9"/>
<path d="M174.1 505.6L176.3 501.6L178.5 505.6Z" fill="#fff" stroke="#000" stroke-width="0.9"/>
<path d="M198.4 508.1L200.6 504.1L202.8 508.1Z" fill="#fff" stroke="#000" stroke-width="0.9"/>
<path d="M222.8 489.6L225.0 485.6L227.2 489.6Z" fill="#fff" stroke="#000" stroke-width="0.9"/>
<path d="M299.7 514.6L301.9 510.6L304.1 514.6Z" fill="#fff" stroke="#000" stroke-width="0.9"/>
<path d="M311.3 509.8L313.5 505.8L315.7 509.8Z" fill="#fff" stroke="#000" stroke-width="0.9"/>
<path d="M336.7 509.8L338.9 505.8L341.1 509.8Z" fill="#fff" stroke="#000" stroke-width="0.9"/>
<path d="M352.6 498.7L354.8 494.7L357.0 498.7Z" fill="#fff" stroke="#000" stroke-width="0.9"/>
<path d="M388.7 491.5L390.9 487.5L393.1 491.5Z" fill="#fff" stroke="#000" stroke-width="0.9"/>
<path d="M98.0 526.0 L105.0 525.5 L112.0 524.0 L118.0 522.0 L124.0 520.0 L130.0 518.0 L136.0 516.0 L142.0 514.0 L151.3 512.5 L168.1 443.5 L192.5 478.5 L201.3 426.3 L236.0 483.5 L257.3 485.8 L274.0 503.6" fill="none" stroke="#000" stroke-width="1.05" stroke-linejoin="round" clip-path="url(#cB)"/>
<path d="M96.0 524.0L100.0 528.0M96.0 528.0L100.0 524.0" stroke="#000" stroke-width="1"/>
<path d="M103.0 523.5L107.0 527.5M103.0 527.5L107.0 523.5" stroke="#000" stroke-width="1"/>
<path d="M110.0 522.0L114.0 526.0M110.0 526.0L114.0 522.0" stroke="#000" stroke-width="1"/>
<path d="M116.0 520.0L120.0 524.0M116.0 524.0L120.0 520.0" stroke="#000" stroke-width="1"/>
<path d="M122.0 518.0L126.0 522.0M122.0 522.0L126.0 518.0" stroke="#000" stroke-width="1"/>
<path d="M128.0 516.0L132.0 520.0M128.0 520.0L132.0 516.0" stroke="#000" stroke-width="1"/>
<path d="M134.0 514.0L138.0 518.0M134.0 518.0L138.0 514.0" stroke="#000" stroke-width="1"/>
<path d="M140.0 512.0L144.0 516.0M140.0 516.0L144.0 512.0" stroke="#000" stroke-width="1"/>
<path d="M149.3 510.5L153.3 514.5M149.3 514.5L153.3 510.5" stroke="#000" stroke-width="1"/>
<path d="M166.1 441.5L170.1 445.5M166.1 445.5L170.1 441.5" stroke="#000" stroke-width="1"/>
<path d="M190.5 476.5L194.5 480.5M190.5 480.5L194.5 476.5" stroke="#000" stroke-width="1"/>
<path d="M199.3 424.3L203.3 428.3M199.3 428.3L203.3 424.3" stroke="#000" stroke-width="1"/>
<path d="M234.0 481.5L238.0 485.5M234.0 485.5L238.0 481.5" stroke="#000" stroke-width="1"/>
<path d="M255.3 483.8L259.3 487.8M255.3 487.8L259.3 483.8" stroke="#000" stroke-width="1"/>
<path d="M272.0 501.6L276.0 505.6M272.0 505.6L276.0 501.6" stroke="#000" stroke-width="1"/>
<path d="M100.0 526.0 L106.0 524.0 L112.0 518.0 L116.0 505.0 L120.0 447.1 L121.5 390.2 L130.6 484.2 L133.6 497.3 L137.6 509.4 L140.5 501.3 L149.4 504.8 L157.5 505.6 L162.5 500.0 L166.3 503.8 L193.1 497.3 L200.0 489.0 L221.5 489.2 L251.0 488.6 L268.8 481.4" fill="none" stroke="#000" stroke-width="1.05" stroke-linejoin="round" clip-path="url(#cB)"/>
<path d="M97.2 526.0L100.0 523.2L102.8 526.0L100.0 528.8Z" fill="#5a5a5a" stroke="#000" stroke-width="0.9"/>
<path d="M103.2 524.0L106.0 521.2L108.8 524.0L106.0 526.8Z" fill="#5a5a5a" stroke="#000" stroke-width="0.9"/>
<path d="M109.2 518.0L112.0 515.2L114.8 518.0L112.0 520.8Z" fill="#5a5a5a" stroke="#000" stroke-width="0.9"/>
<path d="M113.2 505.0L116.0 502.2L118.8 505.0L116.0 507.8Z" fill="#5a5a5a" stroke="#000" stroke-width="0.9"/>
<path d="M117.2 447.1L120.0 444.3L122.8 447.1L120.0 449.9Z" fill="#5a5a5a" stroke="#000" stroke-width="0.9"/>
<path d="M118.7 390.2L121.5 387.4L124.3 390.2L121.5 393.0Z" fill="#5a5a5a" stroke="#000" stroke-width="0.9"/>
<path d="M127.8 484.2L130.6 481.4L133.4 484.2L130.6 487.0Z" fill="#5a5a5a" stroke="#000" stroke-width="0.9"/>
<path d="M130.8 497.3L133.6 494.5L136.4 497.3L133.6 500.1Z" fill="#5a5a5a" stroke="#000" stroke-width="0.9"/>
<path d="M134.8 509.4L137.6 506.6L140.4 509.4L137.6 512.2Z" fill="#5a5a5a" stroke="#000" stroke-width="0.9"/>
<path d="M137.7 501.3L140.5 498.5L143.3 501.3L140.5 504.1Z" fill="#5a5a5a" stroke="#000" stroke-width="0.9"/>
<path d="M146.6 504.8L149.4 502.0L152.2 504.8L149.4 507.6Z" fill="#5a5a5a" stroke="#000" stroke-width="0.9"/>
<path d="M154.7 505.6L157.5 502.8L160.3 505.6L157.5 508.4Z" fill="#5a5a5a" stroke="#000" stroke-width="0.9"/>
<path d="M159.7 500.0L162.5 497.2L165.3 500.0L162.5 502.8Z" fill="#5a5a5a" stroke="#000" stroke-width="0.9"/>
<path d="M163.5 503.8L166.3 501.0L169.1 503.8L166.3 506.6Z" fill="#5a5a5a" stroke="#000" stroke-width="0.9"/>
<path d="M190.3 497.3L193.1 494.5L195.9 497.3L193.1 500.1Z" fill="#5a5a5a" stroke="#000" stroke-width="0.9"/>
<path d="M197.2 489.0L200.0 486.2L202.8 489.0L200.0 491.8Z" fill="#5a5a5a" stroke="#000" stroke-width="0.9"/>
<path d="M218.7 489.2L221.5 486.4L224.3 489.2L221.5 492.0Z" fill="#5a5a5a" stroke="#000" stroke-width="0.9"/>
<path d="M248.2 488.6L251.0 485.8L253.8 488.6L251.0 491.4Z" fill="#5a5a5a" stroke="#000" stroke-width="0.9"/>
<path d="M266.0 481.4L268.8 478.6L271.6 481.4L268.8 484.2Z" fill="#5a5a5a" stroke="#000" stroke-width="0.9"/>
<path d="M102.0 526.0 L108.0 524.0 L114.0 515.2 L118.2 499.6 L119.4 461.2 L123.3 401.3 L128.9 310.3 L135.6 434.6 L137.7 391.2 L143.7 449.4 L148.8 469.2 L158.1 471.3 L169.4 500.0 L203.1 471.3 L254.8 449.8 L282.7 470.5 L289.4 468.1 L305.3 493.1" fill="none" stroke="#000" stroke-width="1.05" stroke-linejoin="round" clip-path="url(#cB)"/>
<path d="M99.0 528.4L102.0 523.0L105.0 528.4Z" fill="#fff" stroke="#000" stroke-width="1"/>
<path d="M105.0 526.4L108.0 521.0L111.0 526.4Z" fill="#fff" stroke="#000" stroke-width="1"/>
<path d="M111.0 517.6L114.0 512.2L117.0 517.6Z" fill="#fff" stroke="#000" stroke-width="1"/>
<path d="M115.2 502.0L118.2 496.6L121.2 502.0Z" fill="#fff" stroke="#000" stroke-width="1"/>
<path d="M116.4 463.6L119.4 458.2L122.4 463.6Z" fill="#fff" stroke="#000" stroke-width="1"/>
<path d="M120.3 403.7L123.3 398.3L126.3 403.7Z" fill="#fff" stroke="#000" stroke-width="1"/>
<path d="M132.6 437.0L135.6 431.6L138.6 437.0Z" fill="#fff" stroke="#000" stroke-width="1"/>
<path d="M134.7 393.6L137.7 388.2L140.7 393.6Z" fill="#fff" stroke="#000" stroke-width="1"/>
<path d="M140.7 451.8L143.7 446.4L146.7 451.8Z" fill="#fff" stroke="#000" stroke-width="1"/>
<path d="M145.8 471.6L148.8 466.2L151.8 471.6Z" fill="#fff" stroke="#000" stroke-width="1"/>
<path d="M155.1 473.7L158.1 468.3L161.1 473.7Z" fill="#fff" stroke="#000" stroke-width="1"/>
<path d="M166.4 502.4L169.4 497.0L172.4 502.4Z" fill="#fff" stroke="#000" stroke-width="1"/>
<path d="M200.1 473.7L203.1 468.3L206.1 473.7Z" fill="#fff" stroke="#000" stroke-width="1"/>
<path d="M251.8 452.2L254.8 446.8L257.8 452.2Z" fill="#fff" stroke="#000" stroke-width="1"/>
<path d="M279.7 472.9L282.7 467.5L285.7 472.9Z" fill="#fff" stroke="#000" stroke-width="1"/>
<path d="M286.4 470.5L289.4 465.1L292.4 470.5Z" fill="#fff" stroke="#000" stroke-width="1"/>
<path d="M302.3 495.5L305.3 490.1L308.3 495.5Z" fill="#fff" stroke="#000" stroke-width="1"/>
<path d="M93.0 526.0 L97.0 525.5 L101.0 526.0 L105.0 525.5 L109.0 525.0 L113.0 523.0 L117.0 522.0 L121.0 521.0 L125.0 520.5 L129.0 520.0 L133.0 519.0 L137.0 518.0 L141.0 517.0 L145.0 516.0 L149.0 515.0 L153.0 513.0 L158.0 511.0 L164.0 508.0" fill="none" stroke="#000" stroke-width="2.0" stroke-linejoin="round" clip-path="url(#cB)"/>
<path d="M90.2 523.2L95.8 528.8M90.2 528.8L95.8 523.2M93.0 523.2L93.0 528.8" stroke="#000" stroke-width="1.2"/>
<path d="M94.2 522.7L99.8 528.3M94.2 528.3L99.8 522.7M97.0 522.7L97.0 528.3" stroke="#000" stroke-width="1.2"/>
<path d="M98.2 523.2L103.8 528.8M98.2 528.8L103.8 523.2M101.0 523.2L101.0 528.8" stroke="#000" stroke-width="1.2"/>
<path d="M102.2 522.7L107.8 528.3M102.2 528.3L107.8 522.7M105.0 522.7L105.0 528.3" stroke="#000" stroke-width="1.2"/>
<path d="M106.2 522.2L111.8 527.8M106.2 527.8L111.8 522.2M109.0 522.2L109.0 527.8" stroke="#000" stroke-width="1.2"/>
<path d="M110.2 520.2L115.8 525.8M110.2 525.8L115.8 520.2M113.0 520.2L113.0 525.8" stroke="#000" stroke-width="1.2"/>
<path d="M114.2 519.2L119.8 524.8M114.2 524.8L119.8 519.2M117.0 519.2L117.0 524.8" stroke="#000" stroke-width="1.2"/>
<path d="M118.2 518.2L123.8 523.8M118.2 523.8L123.8 518.2M121.0 518.2L121.0 523.8" stroke="#000" stroke-width="1.2"/>
<path d="M122.2 517.7L127.8 523.3M122.2 523.3L127.8 517.7M125.0 517.7L125.0 523.3" stroke="#000" stroke-width="1.2"/>
<path d="M126.2 517.2L131.8 522.8M126.2 522.8L131.8 517.2M129.0 517.2L129.0 522.8" stroke="#000" stroke-width="1.2"/>
<path d="M130.2 516.2L135.8 521.8M130.2 521.8L135.8 516.2M133.0 516.2L133.0 521.8" stroke="#000" stroke-width="1.2"/>
<path d="M134.2 515.2L139.8 520.8M134.2 520.8L139.8 515.2M137.0 515.2L137.0 520.8" stroke="#000" stroke-width="1.2"/>
<path d="M138.2 514.2L143.8 519.8M138.2 519.8L143.8 514.2M141.0 514.2L141.0 519.8" stroke="#000" stroke-width="1.2"/>
<path d="M142.2 513.2L147.8 518.8M142.2 518.8L147.8 513.2M145.0 513.2L145.0 518.8" stroke="#000" stroke-width="1.2"/>
<path d="M146.2 512.2L151.8 517.8M146.2 517.8L151.8 512.2M149.0 512.2L149.0 517.8" stroke="#000" stroke-width="1.2"/>
<path d="M150.2 510.2L155.8 515.8M150.2 515.8L155.8 510.2M153.0 510.2L153.0 515.8" stroke="#000" stroke-width="1.2"/>
<path d="M155.2 508.2L160.8 513.8M155.2 513.8L160.8 508.2M158.0 508.2L158.0 513.8" stroke="#000" stroke-width="1.2"/>
<path d="M161.2 505.2L166.8 510.8M161.2 510.8L166.8 505.2M164.0 505.2L164.0 510.8" stroke="#000" stroke-width="1.2"/>
<path d="M110.0 526.0 L118.0 524.0 L124.0 523.0 L130.0 524.0 L136.0 522.0 L142.0 520.0 L148.0 521.0 L154.0 518.0" fill="none" stroke="#000" stroke-width="1.05" stroke-linejoin="round" clip-path="url(#cB)"/>
<path d="M107.2 526.0L110.0 523.2L112.8 526.0L110.0 528.8Z" fill="#5a5a5a" stroke="#000" stroke-width="0.9"/>
<path d="M115.2 524.0L118.0 521.2L120.8 524.0L118.0 526.8Z" fill="#5a5a5a" stroke="#000" stroke-width="0.9"/>
<path d="M121.2 523.0L124.0 520.2L126.8 523.0L124.0 525.8Z" fill="#5a5a5a" stroke="#000" stroke-width="0.9"/>
<path d="M127.2 524.0L130.0 521.2L132.8 524.0L130.0 526.8Z" fill="#5a5a5a" stroke="#000" stroke-width="0.9"/>
<path d="M133.2 522.0L136.0 519.2L138.8 522.0L136.0 524.8Z" fill="#5a5a5a" stroke="#000" stroke-width="0.9"/>
<path d="M139.2 520.0L142.0 517.2L144.8 520.0L142.0 522.8Z" fill="#5a5a5a" stroke="#000" stroke-width="0.9"/>
<path d="M145.2 521.0L148.0 518.2L150.8 521.0L148.0 523.8Z" fill="#5a5a5a" stroke="#000" stroke-width="0.9"/>
<path d="M151.2 518.0L154.0 515.2L156.8 518.0L154.0 520.8Z" fill="#5a5a5a" stroke="#000" stroke-width="0.9"/>
<path d="M112.0 526.0 L120.0 525.0 L128.0 524.0 L136.0 523.5 L144.0 522.0 L150.0 520.0" fill="none" stroke="#000" stroke-width="1.05" stroke-linejoin="round" clip-path="url(#cB)"/>
<path d="M110.0 524.0L114.0 528.0M110.0 528.0L114.0 524.0" stroke="#000" stroke-width="1"/>
<path d="M118.0 523.0L122.0 527.0M118.0 527.0L122.0 523.0" stroke="#000" stroke-width="1"/>
<path d="M126.0 522.0L130.0 526.0M126.0 526.0L130.0 522.0" stroke="#000" stroke-width="1"/>
<path d="M134.0 521.5L138.0 525.5M134.0 525.5L138.0 521.5" stroke="#000" stroke-width="1"/>
<path d="M142.0 520.0L146.0 524.0M142.0 524.0L146.0 520.0" stroke="#000" stroke-width="1"/>
<path d="M148.0 518.0L152.0 522.0M148.0 522.0L152.0 518.0" stroke="#000" stroke-width="1"/>
<path d="M118.0 526.0 L124.0 524.5 L130.0 525.0 L136.0 524.0 L142.0 524.5 L148.0 523.0 L154.0 523.5 L160.0 521.0 L166.0 518.0 L172.0 514.0" fill="none" stroke="#000" stroke-width="2.0" stroke-linejoin="round" clip-path="url(#cB)"/>
<path d="M115.2 523.2L120.8 528.8M115.2 528.8L120.8 523.2M118.0 523.2L118.0 528.8" stroke="#000" stroke-width="1.2"/>
<path d="M121.2 521.7L126.8 527.3M121.2 527.3L126.8 521.7M124.0 521.7L124.0 527.3" stroke="#000" stroke-width="1.2"/>
<path d="M127.2 522.2L132.8 527.8M127.2 527.8L132.8 522.2M130.0 522.2L130.0 527.8" stroke="#000" stroke-width="1.2"/>
<path d="M133.2 521.2L138.8 526.8M133.2 526.8L138.8 521.2M136.0 521.2L136.0 526.8" stroke="#000" stroke-width="1.2"/>
<path d="M139.2 521.7L144.8 527.3M139.2 527.3L144.8 521.7M142.0 521.7L142.0 527.3" stroke="#000" stroke-width="1.2"/>
<path d="M145.2 520.2L150.8 525.8M145.2 525.8L150.8 520.2M148.0 520.2L148.0 525.8" stroke="#000" stroke-width="1.2"/>
<path d="M151.2 520.7L156.8 526.3M151.2 526.3L156.8 520.7M154.0 520.7L154.0 526.3" stroke="#000" stroke-width="1.2"/>
<path d="M157.2 518.2L162.8 523.8M157.2 523.8L162.8 518.2M160.0 518.2L160.0 523.8" stroke="#000" stroke-width="1.2"/>
<path d="M163.2 515.2L168.8 520.8M163.2 520.8L168.8 515.2M166.0 515.2L166.0 520.8" stroke="#000" stroke-width="1.2"/>
<path d="M169.2 511.2L174.8 516.8M169.2 516.8L174.8 511.2M172.0 511.2L172.0 516.8" stroke="#000" stroke-width="1.2"/>
<path d="M128.0 526.0 L134.0 516.0 L140.0 520.0 L146.0 510.0 L152.0 516.0 L158.0 508.0 L164.0 512.0 L170.0 506.0" fill="none" stroke="#000" stroke-width="1.05" stroke-linejoin="round" clip-path="url(#cB)"/>
<path d="M125.8 527.8L128.0 523.8L130.2 527.8Z" fill="#fff" stroke="#000" stroke-width="0.9"/>
<path d="M131.8 517.8L134.0 513.8L136.2 517.8Z" fill="#fff" stroke="#000" stroke-width="0.9"/>
<path d="M137.8 521.8L140.0 517.8L142.2 521.8Z" fill="#fff" stroke="#000" stroke-width="0.9"/>
<path d="M143.8 511.8L146.0 507.8L148.2 511.8Z" fill="#fff" stroke="#000" stroke-width="0.9"/>
<path d="M149.8 517.8L152.0 513.8L154.2 517.8Z" fill="#fff" stroke="#000" stroke-width="0.9"/>
<path d="M155.8 509.8L158.0 505.8L160.2 509.8Z" fill="#fff" stroke="#000" stroke-width="0.9"/>
<path d="M161.8 513.8L164.0 509.8L166.2 513.8Z" fill="#fff" stroke="#000" stroke-width="0.9"/>
<path d="M167.8 507.8L170.0 503.8L172.2 507.8Z" fill="#fff" stroke="#000" stroke-width="0.9"/>
<path d="M120.0 526.0 L126.0 519.0 L132.0 512.0 L138.0 516.0 L144.0 507.0" fill="none" stroke="#000" stroke-width="1.05" stroke-linejoin="round" clip-path="url(#cB)"/>
<rect x="117.6" y="523.6" width="4.8" height="4.8" fill="#fff" stroke="#000" stroke-width="0.9"/>
<rect x="123.6" y="516.6" width="4.8" height="4.8" fill="#fff" stroke="#000" stroke-width="0.9"/>
<rect x="129.6" y="509.6" width="4.8" height="4.8" fill="#fff" stroke="#000" stroke-width="0.9"/>
<rect x="135.6" y="513.6" width="4.8" height="4.8" fill="#fff" stroke="#000" stroke-width="0.9"/>
<rect x="141.6" y="504.6" width="4.8" height="4.8" fill="#fff" stroke="#000" stroke-width="0.9"/>
<text x="102.5" y="357.7" font-size="15" text-anchor="start" font-weight="bold" stroke="#000" stroke-width="0.25" >DIG010: 3319 at 0.19 y</text>
<rect x="438.7" y="341.5" width="80.00000000000006" height="152.39999999999998" stroke="#888" stroke-width="1.5" fill="#fff"/>
<line x1="442.5" y1="352.2" x2="459.6" y2="352.2" stroke="#000" stroke-width="1.3"/>
<path d="M448.4 352.2L451.1 349.6L453.7 352.2L451.1 354.8Z" fill="#000"/>
<text x="463.3" y="357.11699999999996" font-size="14.9" text-anchor="start" font-weight="bold" stroke="#000" stroke-width="0.25" >DIG001</text>
<line x1="442.5" y1="374.15999999999997" x2="459.6" y2="374.15999999999997" stroke="#000" stroke-width="1.3"/>
<rect x="448.7" y="371.8" width="4.8" height="4.8" fill="#999" stroke="#000" stroke-width="0.9"/>
<text x="463.3" y="379.07699999999994" font-size="14.9" text-anchor="start" font-weight="bold" stroke="#000" stroke-width="0.25" >DIG005</text>
<line x1="442.5" y1="396.12" x2="459.6" y2="396.12" stroke="#000" stroke-width="1.3"/>
<path d="M448.9 397.9L451.1 393.9L453.2 397.9Z" fill="#fff" stroke="#000" stroke-width="0.9"/>
<text x="463.3" y="401.037" font-size="14.9" text-anchor="start" font-weight="bold" stroke="#000" stroke-width="0.25" >DIG006</text>
<line x1="442.5" y1="418.08" x2="459.6" y2="418.08" stroke="#000" stroke-width="1.3"/>
<path d="M449.1 416.1L453.1 420.1M449.1 420.1L453.1 416.1" stroke="#000" stroke-width="1.3"/>
<text x="463.3" y="422.99699999999996" font-size="14.9" text-anchor="start" font-weight="bold" stroke="#000" stroke-width="0.25" >DIG007</text>
<line x1="442.5" y1="440.03999999999996" x2="459.6" y2="440.03999999999996" stroke="#000" stroke-width="1.3"/>
<path d="M448.2 440.0L451.1 437.2L453.9 440.0L451.1 442.8Z" fill="#5a5a5a" stroke="#000" stroke-width="0.9"/>
<text x="463.3" y="444.95699999999994" font-size="14.9" text-anchor="start" font-weight="bold" stroke="#000" stroke-width="0.25" >DIG009</text>
<line x1="442.5" y1="462.0" x2="459.6" y2="462.0" stroke="#000" stroke-width="1.3"/>
<path d="M448.1 464.4L451.1 459.0L454.1 464.4Z" fill="#fff" stroke="#000" stroke-width="1"/>
<text x="463.3" y="466.917" font-size="14.9" text-anchor="start" font-weight="bold" stroke="#000" stroke-width="0.25" >DIG010</text>
<line x1="442.5" y1="483.96" x2="459.6" y2="483.96" stroke="#000" stroke-width="1.8"/>
<path d="M448.2 481.2L453.9 486.8M448.2 486.8L453.9 481.2M451.1 481.2L451.1 486.8" stroke="#000" stroke-width="1.2"/>
<text x="463.3" y="488.87699999999995" font-size="14.9" text-anchor="start" font-weight="bold" stroke="#000" stroke-width="0.25" >DIG012</text>
<text x="0.2" y="635.2" font-size="28.5" text-anchor="start" font-weight="bold" stroke="#000" stroke-width="0.25" >C</text>
<line x1="62.2" y1="671" x2="62.2" y2="865.5" stroke="#8a8a8a" stroke-width="1"/>
<line x1="58.2" y1="865.0" x2="62.2" y2="865.0" stroke="#8a8a8a" stroke-width="1"/>
<line x1="58.2" y1="816.5" x2="62.2" y2="816.5" stroke="#8a8a8a" stroke-width="1"/>
<line x1="58.2" y1="768.0" x2="62.2" y2="768.0" stroke="#8a8a8a" stroke-width="1"/>
<line x1="58.2" y1="719.5" x2="62.2" y2="719.5" stroke="#8a8a8a" stroke-width="1"/>
<line x1="58.2" y1="671.0" x2="62.2" y2="671.0" stroke="#8a8a8a" stroke-width="1"/>
<text x="50.2" y="868.6" font-size="15" text-anchor="end" font-weight="bold" stroke="#000" stroke-width="0.25" >0</text>
<text x="50.2" y="820.1" font-size="15" text-anchor="end" font-weight="bold" stroke="#000" stroke-width="0.25" >500</text>
<text x="50.2" y="771.6" font-size="15" text-anchor="end" font-weight="bold" stroke="#000" stroke-width="0.25" >1000</text>
<text x="50.2" y="723.1" font-size="15" text-anchor="end" font-weight="bold" stroke="#000" stroke-width="0.25" >1500</text>
<text x="50.2" y="674.6" font-size="15" text-anchor="end" font-weight="bold" stroke="#000" stroke-width="0.25" >2000</text>
<line x1="62.2" y1="865" x2="502.8" y2="865" stroke="#888" stroke-width="1.4"/>
<line x1="62.53999999999999" y1="865" x2="62.53999999999999" y2="868.5" stroke="#8a8a8a" stroke-width="1"/>
<line x1="150.6" y1="865" x2="150.6" y2="868.5" stroke="#8a8a8a" stroke-width="1"/>
<line x1="238.66" y1="865" x2="238.66" y2="868.5" stroke="#8a8a8a" stroke-width="1"/>
<line x1="326.72" y1="865" x2="326.72" y2="868.5" stroke="#8a8a8a" stroke-width="1"/>
<line x1="414.78" y1="865" x2="414.78" y2="868.5" stroke="#8a8a8a" stroke-width="1"/>
<line x1="502.84000000000003" y1="865" x2="502.84000000000003" y2="868.5" stroke="#8a8a8a" stroke-width="1"/>
<text x="62.53999999999999" y="893" font-size="15" text-anchor="middle" font-weight="bold" stroke="#000" stroke-width="0.25" >-1</text>
<text x="150.6" y="893" font-size="15" text-anchor="middle" font-weight="bold" stroke="#000" stroke-width="0.25" >0</text>
<text x="238.66" y="893" font-size="15" text-anchor="middle" font-weight="bold" stroke="#000" stroke-width="0.25" >1</text>
<text x="326.72" y="893" font-size="15" text-anchor="middle" font-weight="bold" stroke="#000" stroke-width="0.25" >2</text>
<text x="414.78" y="893" font-size="15" text-anchor="middle" font-weight="bold" stroke="#000" stroke-width="0.25" >3</text>
<text x="502.84000000000003" y="893" font-size="15" text-anchor="middle" font-weight="bold" stroke="#000" stroke-width="0.25" >4</text>
<text x="281.2" y="913" font-size="15.1" text-anchor="middle" font-weight="bold" stroke="#000" stroke-width="0.25" >Years after&#160; transplantation</text>
<text transform="translate(12.6,775) rotate(-90)" font-size="15.2" font-weight="bold" text-anchor="middle">Cells/mm<tspan dy="-5.5" font-size="9" font-weight="normal">3</tspan></text>
<rect x="79.5" y="642.5" width="216.1" height="33" stroke="#444" stroke-width="1.2" fill="#fff"/>
<path d="M136.0 865.0 L140.0 864.5 L150.0 863.0 L158.0 860.0 L165.0 858.0 L170.0 856.0 L174.0 857.4 L176.9 724.0 L184.1 231.5 L202.8 763.9 L207.5 850.8 L216.7 858.0 L222.5 852.2 L229.4 834.0 L237.5 842.7 L249.6 844.8 L288.7 849.0 L407.0 842.5 L504.0 851.4" fill="none" stroke="#000" stroke-width="1.05" stroke-linejoin="round" clip-path="url(#cC)"/>
<path d="M133.4 865.0L136.0 862.4L138.6 865.0L136.0 867.6Z" fill="#000"/>
<path d="M137.4 864.5L140.0 861.9L142.6 864.5L140.0 867.1Z" fill="#000"/>
<path d="M147.4 863.0L150.0 860.4L152.6 863.0L150.0 865.6Z" fill="#000"/>
<path d="M155.4 860.0L158.0 857.4L160.6 860.0L158.0 862.6Z" fill="#000"/>
<path d="M162.4 858.0L165.0 855.4L167.6 858.0L165.0 860.6Z" fill="#000"/>
<path d="M167.4 856.0L170.0 853.4L172.6 856.0L170.0 858.6Z" fill="#000"/>
<path d="M171.4 857.4L174.0 854.8L176.6 857.4L174.0 860.0Z" fill="#000"/>
<path d="M174.3 724.0L176.9 721.4L179.5 724.0L176.9 726.6Z" fill="#000"/>
<path d="M200.2 763.9L202.8 761.3L205.4 763.9L202.8 766.5Z" fill="#000"/>
<path d="M204.9 850.8L207.5 848.2L210.1 850.8L207.5 853.4Z" fill="#000"/>
<path d="M214.1 858.0L216.7 855.4L219.3 858.0L216.7 860.6Z" fill="#000"/>
<path d="M219.9 852.2L222.5 849.6L225.1 852.2L222.5 854.8Z" fill="#000"/>
<path d="M226.8 834.0L229.4 831.4L232.0 834.0L229.4 836.6Z" fill="#000"/>
<path d="M234.9 842.7L237.5 840.1L240.1 842.7L237.5 845.3Z" fill="#000"/>
<path d="M247.0 844.8L249.6 842.2L252.2 844.8L249.6 847.4Z" fill="#000"/>
<path d="M286.1 849.0L288.7 846.4L291.3 849.0L288.7 851.6Z" fill="#000"/>
<path d="M404.4 842.5L407.0 839.9L409.6 842.5L407.0 845.1Z" fill="#000"/>
<path d="M150.0 865.0 L165.0 864.0 L180.0 862.0 L192.0 859.0 L200.0 855.0 L209.4 838.9 L233.9 827.4 L321.0 838.9 L327.1 836.9 L336.3 831.2 L431.3 814.2" fill="none" stroke="#000" stroke-width="1.05" stroke-linejoin="round" clip-path="url(#cC)"/>
<rect x="147.6" y="862.6" width="4.8" height="4.8" fill="#fff" stroke="#000" stroke-width="0.9"/>
<rect x="162.6" y="861.6" width="4.8" height="4.8" fill="#fff" stroke="#000" stroke-width="0.9"/>
<rect x="177.6" y="859.6" width="4.8" height="4.8" fill="#fff" stroke="#000" stroke-width="0.9"/>
<rect x="189.6" y="856.6" width="4.8" height="4.8" fill="#fff" stroke="#000" stroke-width="0.9"/>
<rect x="197.6" y="852.6" width="4.8" height="4.8" fill="#fff" stroke="#000" stroke-width="0.9"/>
<rect x="207.0" y="836.5" width="4.8" height="4.8" fill="#fff" stroke="#000" stroke-width="0.9"/>
<rect x="231.5" y="825.0" width="4.8" height="4.8" fill="#fff" stroke="#000" stroke-width="0.9"/>
<rect x="318.6" y="836.5" width="4.8" height="4.8" fill="#fff" stroke="#000" stroke-width="0.9"/>
<rect x="324.7" y="834.5" width="4.8" height="4.8" fill="#fff" stroke="#000" stroke-width="0.9"/>
<rect x="333.9" y="828.8" width="4.8" height="4.8" fill="#fff" stroke="#000" stroke-width="0.9"/>
<rect x="428.9" y="811.8" width="4.8" height="4.8" fill="#fff" stroke="#000" stroke-width="0.9"/>
<path d="M160.0 865.0 L172.0 864.0 L185.2 851.9 L195.0 860.0 L210.0 862.0 L233.9 860.6 L255.0 857.1 L283.0 860.0 L307.5 857.1 L313.3 857.7 L329.1 861.4" fill="none" stroke="#000" stroke-width="1.05" stroke-linejoin="round" clip-path="url(#cC)"/>
<path d="M157.8 866.8L160.0 862.8L162.2 866.8Z" fill="#fff" stroke="#000" stroke-width="0.9"/>
<path d="M169.8 865.8L172.0 861.8L174.2 865.8Z" fill="#fff" stroke="#000" stroke-width="0.9"/>
<path d="M183.0 853.7L185.2 849.7L187.4 853.7Z" fill="#fff" stroke="#000" stroke-width="0.9"/>
<path d="M192.8 861.8L195.0 857.8L197.2 861.8Z" fill="#fff" stroke="#000" stroke-width="0.9"/>
<path d="M207.8 863.8L210.0 859.8L212.2 863.8Z" fill="#fff" stroke="#000" stroke-width="0.9"/>
<path d="M231.7 862.4L233.9 858.4L236.1 862.4Z" fill="#fff" stroke="#000" stroke-width="0.9"/>
<path d="M252.8 858.9L255.0 854.9L257.2 858.9Z" fill="#fff" stroke="#000" stroke-width="0.9"/>
<path d="M280.8 861.8L283.0 857.8L285.2 861.8Z" fill="#fff" stroke="#000" stroke-width="0.9"/>
<path d="M305.3 858.9L307.5 854.9L309.7 858.9Z" fill="#fff" stroke="#000" stroke-width="0.9"/>
<path d="M311.1 859.5L313.3 855.5L315.5 859.5Z" fill="#fff" stroke="#000" stroke-width="0.9"/>
<path d="M326.9 863.2L329.1 859.2L331.3 863.2Z" fill="#fff" stroke="#000" stroke-width="0.9"/>
<path d="M136.0 865.0 L145.0 864.5 L155.0 864.0 L165.0 863.0 L175.0 862.0 L188.0 859.0 L202.2 847.6 L223.3 841.2 L233.9 828.0 L264.2 838.4 L285.0 849.0 L298.8 849.0" fill="none" stroke="#000" stroke-width="1.05" stroke-linejoin="round" clip-path="url(#cC)"/>
<path d="M134.0 863.0L138.0 867.0M134.0 867.0L138.0 863.0" stroke="#000" stroke-width="1"/>
<path d="M143.0 862.5L147.0 866.5M143.0 866.5L147.0 862.5" stroke="#000" stroke-width="1"/>
<path d="M153.0 862.0L157.0 866.0M153.0 866.0L157.0 862.0" stroke="#000" stroke-width="1"/>
<path d="M163.0 861.0L167.0 865.0M163.0 865.0L167.0 861.0" stroke="#000" stroke-width="1"/>
<path d="M173.0 860.0L177.0 864.0M173.0 864.0L177.0 860.0" stroke="#000" stroke-width="1"/>
<path d="M186.0 857.0L190.0 861.0M186.0 861.0L190.0 857.0" stroke="#000" stroke-width="1"/>
<path d="M200.2 845.6L204.2 849.6M200.2 849.6L204.2 845.6" stroke="#000" stroke-width="1"/>
<path d="M221.3 839.2L225.3 843.2M221.3 843.2L225.3 839.2" stroke="#000" stroke-width="1"/>
<path d="M231.9 826.0L235.9 830.0M231.9 830.0L235.9 826.0" stroke="#000" stroke-width="1"/>
<path d="M262.2 836.4L266.2 840.4M262.2 840.4L266.2 836.4" stroke="#000" stroke-width="1"/>
<path d="M283.0 847.0L287.0 851.0M283.0 851.0L287.0 847.0" stroke="#000" stroke-width="1"/>
<path d="M296.8 847.0L300.8 851.0M296.8 851.0L300.8 847.0" stroke="#000" stroke-width="1"/>
<path d="M140.0 865.0 L150.0 864.0 L156.0 860.0 L160.2 829.6 L164.0 857.0 L170.0 860.0 L180.0 858.0 L195.0 855.0 L210.0 858.0 L225.9 857.1 L232.5 847.6 L250.7 849.0 L278.6 838.1" fill="none" stroke="#000" stroke-width="1.05" stroke-linejoin="round" clip-path="url(#cC)"/>
<path d="M137.2 865.0L140.0 862.2L142.8 865.0L140.0 867.8Z" fill="#5a5a5a" stroke="#000" stroke-width="0.9"/>
<path d="M147.2 864.0L150.0 861.2L152.8 864.0L150.0 866.8Z" fill="#5a5a5a" stroke="#000" stroke-width="0.9"/>
<path d="M153.2 860.0L156.0 857.2L158.8 860.0L156.0 862.8Z" fill="#5a5a5a" stroke="#000" stroke-width="0.9"/>
<path d="M157.4 829.6L160.2 826.8L163.0 829.6L160.2 832.4Z" fill="#5a5a5a" stroke="#000" stroke-width="0.9"/>
<path d="M161.2 857.0L164.0 854.2L166.8 857.0L164.0 859.8Z" fill="#5a5a5a" stroke="#000" stroke-width="0.9"/>
<path d="M167.2 860.0L170.0 857.2L172.8 860.0L170.0 862.8Z" fill="#5a5a5a" stroke="#000" stroke-width="0.9"/>
<path d="M177.2 858.0L180.0 855.2L182.8 858.0L180.0 860.8Z" fill="#5a5a5a" stroke="#000" stroke-width="0.9"/>
<path d="M192.2 855.0L195.0 852.2L197.8 855.0L195.0 857.8Z" fill="#5a5a5a" stroke="#000" stroke-width="0.9"/>
<path d="M207.2 858.0L210.0 855.2L212.8 858.0L210.0 860.8Z" fill="#5a5a5a" stroke="#000" stroke-width="0.9"/>
<path d="M223.1 857.1L225.9 854.3L228.7 857.1L225.9 859.9Z" fill="#5a5a5a" stroke="#000" stroke-width="0.9"/>
<path d="M229.7 847.6L232.5 844.8L235.3 847.6L232.5 850.4Z" fill="#5a5a5a" stroke="#000" stroke-width="0.9"/>
<path d="M247.9 849.0L250.7 846.2L253.5 849.0L250.7 851.8Z" fill="#5a5a5a" stroke="#000" stroke-width="0.9"/>
<path d="M275.8 838.1L278.6 835.3L281.4 838.1L278.6 840.9Z" fill="#5a5a5a" stroke="#000" stroke-width="0.9"/>
<path d="M145.0 865.0 L155.0 862.0 L162.0 838.0 L166.7 739.4 L168.5 717.6 L172.6 795.4 L174.6 833.3 L180.6 829.6 L185.2 851.9 L190.0 860.0 L205.0 858.0 L325.0 851.4 L335.5 852.6 L359.8 853.8 L372.7 836.4" fill="none" stroke="#000" stroke-width="1.05" stroke-linejoin="round" clip-path="url(#cC)"/>
<path d="M142.0 867.4L145.0 862.0L148.0 867.4Z" fill="#fff" stroke="#000" stroke-width="1"/>
<path d="M152.0 864.4L155.0 859.0L158.0 864.4Z" fill="#fff" stroke="#000" stroke-width="1"/>
<path d="M159.0 840.4L162.0 835.0L165.0 840.4Z" fill="#fff" stroke="#000" stroke-width="1"/>
<path d="M163.7 741.8L166.7 736.4L169.7 741.8Z" fill="#fff" stroke="#000" stroke-width="1"/>
<path d="M165.5 720.0L168.5 714.6L171.5 720.0Z" fill="#fff" stroke="#000" stroke-width="1"/>
<path d="M169.6 797.8L172.6 792.4L175.6 797.8Z" fill="#fff" stroke="#000" stroke-width="1"/>
<path d="M171.6 835.7L174.6 830.3L177.6 835.7Z" fill="#fff" stroke="#000" stroke-width="1"/>
<path d="M177.6 832.0L180.6 826.6L183.6 832.0Z" fill="#fff" stroke="#000" stroke-width="1"/>
<path d="M182.2 854.3L185.2 848.9L188.2 854.3Z" fill="#fff" stroke="#000" stroke-width="1"/>
<path d="M187.0 862.4L190.0 857.0L193.0 862.4Z" fill="#fff" stroke="#000" stroke-width="1"/>
<path d="M202.0 860.4L205.0 855.0L208.0 860.4Z" fill="#fff" stroke="#000" stroke-width="1"/>
<path d="M322.0 853.8L325.0 848.4L328.0 853.8Z" fill="#fff" stroke="#000" stroke-width="1"/>
<path d="M332.5 855.0L335.5 849.6L338.5 855.0Z" fill="#fff" stroke="#000" stroke-width="1"/>
<path d="M356.8 856.2L359.8 850.8L362.8 856.2Z" fill="#fff" stroke="#000" stroke-width="1"/>
<path d="M369.7 838.8L372.7 833.4L375.7 838.8Z" fill="#fff" stroke="#000" stroke-width="1"/>
<path d="M136.0 865.0 L142.0 865.5 L148.0 865.0 L154.0 864.5 L160.0 865.0 L166.0 864.0 L172.0 864.5 L178.0 864.0 L184.0 863.5 L190.0 864.0 L196.0 863.0 L202.0 862.0" fill="none" stroke="#000" stroke-width="2.0" stroke-linejoin="round" clip-path="url(#cC)"/>
<path d="M133.2 862.2L138.8 867.8M133.2 867.8L138.8 862.2M136.0 862.2L136.0 867.8" stroke="#000" stroke-width="1.2"/>
<path d="M139.2 862.7L144.8 868.3M139.2 868.3L144.8 862.7M142.0 862.7L142.0 868.3" stroke="#000" stroke-width="1.2"/>
<path d="M145.2 862.2L150.8 867.8M145.2 867.8L150.8 862.2M148.0 862.2L148.0 867.8" stroke="#000" stroke-width="1.2"/>
<path d="M151.2 861.7L156.8 867.3M151.2 867.3L156.8 861.7M154.0 861.7L154.0 867.3" stroke="#000" stroke-width="1.2"/>
<path d="M157.2 862.2L162.8 867.8M157.2 867.8L162.8 862.2M160.0 862.2L160.0 867.8" stroke="#000" stroke-width="1.2"/>
<path d="M163.2 861.2L168.8 866.8M163.2 866.8L168.8 861.2M166.0 861.2L166.0 866.8" stroke="#000" stroke-width="1.2"/>
<path d="M169.2 861.7L174.8 867.3M169.2 867.3L174.8 861.7M172.0 861.7L172.0 867.3" stroke="#000" stroke-width="1.2"/>
<path d="M175.2 861.2L180.8 866.8M175.2 866.8L180.8 861.2M178.0 861.2L178.0 866.8" stroke="#000" stroke-width="1.2"/>
<path d="M181.2 860.7L186.8 866.3M181.2 866.3L186.8 860.7M184.0 860.7L184.0 866.3" stroke="#000" stroke-width="1.2"/>
<path d="M187.2 861.2L192.8 866.8M187.2 866.8L192.8 861.2M190.0 861.2L190.0 866.8" stroke="#000" stroke-width="1.2"/>
<path d="M193.2 860.2L198.8 865.8M193.2 865.8L198.8 860.2M196.0 860.2L196.0 865.8" stroke="#000" stroke-width="1.2"/>
<path d="M199.2 859.2L204.8 864.8M199.2 864.8L204.8 859.2M202.0 859.2L202.0 864.8" stroke="#000" stroke-width="1.2"/>
<path d="M141.5 864.7 L148.0 863.0 L155.0 864.0 L162.0 861.0 L168.0 863.0 L175.0 860.0 L182.0 862.0 L189.0 858.0 L196.0 861.0 L203.0 857.0" fill="none" stroke="#000" stroke-width="1.05" stroke-linejoin="round" clip-path="url(#cC)"/>
<path d="M138.7 864.7L141.5 861.9L144.3 864.7L141.5 867.5Z" fill="#5a5a5a" stroke="#000" stroke-width="0.9"/>
<path d="M145.2 863.0L148.0 860.2L150.8 863.0L148.0 865.8Z" fill="#5a5a5a" stroke="#000" stroke-width="0.9"/>
<path d="M152.2 864.0L155.0 861.2L157.8 864.0L155.0 866.8Z" fill="#5a5a5a" stroke="#000" stroke-width="0.9"/>
<path d="M159.2 861.0L162.0 858.2L164.8 861.0L162.0 863.8Z" fill="#5a5a5a" stroke="#000" stroke-width="0.9"/>
<path d="M165.2 863.0L168.0 860.2L170.8 863.0L168.0 865.8Z" fill="#5a5a5a" stroke="#000" stroke-width="0.9"/>
<path d="M172.2 860.0L175.0 857.2L177.8 860.0L175.0 862.8Z" fill="#5a5a5a" stroke="#000" stroke-width="0.9"/>
<path d="M179.2 862.0L182.0 859.2L184.8 862.0L182.0 864.8Z" fill="#5a5a5a" stroke="#000" stroke-width="0.9"/>
<path d="M186.2 858.0L189.0 855.2L191.8 858.0L189.0 860.8Z" fill="#5a5a5a" stroke="#000" stroke-width="0.9"/>
<path d="M193.2 861.0L196.0 858.2L198.8 861.0L196.0 863.8Z" fill="#5a5a5a" stroke="#000" stroke-width="0.9"/>
<path d="M200.2 857.0L203.0 854.2L205.8 857.0L203.0 859.8Z" fill="#5a5a5a" stroke="#000" stroke-width="0.9"/>
<path d="M139.0 864.0 L146.0 865.0 L153.0 862.5 L160.0 864.5 L167.0 861.0 L174.0 864.0 L181.0 860.0 L188.0 863.0 L195.0 859.0 L200.0 862.0" fill="none" stroke="#000" stroke-width="1.05" stroke-linejoin="round" clip-path="url(#cC)"/>
<path d="M137.0 862.0L141.0 866.0M137.0 866.0L141.0 862.0" stroke="#000" stroke-width="1"/>
<path d="M144.0 863.0L148.0 867.0M144.0 867.0L148.0 863.0" stroke="#000" stroke-width="1"/>
<path d="M151.0 860.5L155.0 864.5M151.0 864.5L155.0 860.5" stroke="#000" stroke-width="1"/>
<path d="M158.0 862.5L162.0 866.5M158.0 866.5L162.0 862.5" stroke="#000" stroke-width="1"/>
<path d="M165.0 859.0L169.0 863.0M165.0 863.0L169.0 859.0" stroke="#000" stroke-width="1"/>
<path d="M172.0 862.0L176.0 866.0M172.0 866.0L176.0 862.0" stroke="#000" stroke-width="1"/>
<path d="M179.0 858.0L183.0 862.0M179.0 862.0L183.0 858.0" stroke="#000" stroke-width="1"/>
<path d="M186.0 861.0L190.0 865.0M186.0 865.0L190.0 861.0" stroke="#000" stroke-width="1"/>
<path d="M193.0 857.0L197.0 861.0M193.0 861.0L197.0 857.0" stroke="#000" stroke-width="1"/>
<path d="M198.0 860.0L202.0 864.0M198.0 864.0L202.0 860.0" stroke="#000" stroke-width="1"/>
<path d="M144.0 865.0 L152.0 863.0 L160.0 861.0 L166.0 865.0 L172.0 861.0 L179.0 863.0 L186.0 858.0 L194.0 864.0 L199.0 856.0" fill="none" stroke="#000" stroke-width="1.05" stroke-linejoin="round" clip-path="url(#cC)"/>
<path d="M141.8 866.8L144.0 862.8L146.2 866.8Z" fill="#fff" stroke="#000" stroke-width="0.9"/>
<path d="M149.8 864.8L152.0 860.8L154.2 864.8Z" fill="#fff" stroke="#000" stroke-width="0.9"/>
<path d="M157.8 862.8L160.0 858.8L162.2 862.8Z" fill="#fff" stroke="#000" stroke-width="0.9"/>
<path d="M163.8 866.8L166.0 862.8L168.2 866.8Z" fill="#fff" stroke="#000" stroke-width="0.9"/>
<path d="M169.8 862.8L172.0 858.8L174.2 862.8Z" fill="#fff" stroke="#000" stroke-width="0.9"/>
<path d="M176.8 864.8L179.0 860.8L181.2 864.8Z" fill="#fff" stroke="#000" stroke-width="0.9"/>
<path d="M183.8 859.8L186.0 855.8L188.2 859.8Z" fill="#fff" stroke="#000" stroke-width="0.9"/>
<path d="M191.8 865.8L194.0 861.8L196.2 865.8Z" fill="#fff" stroke="#000" stroke-width="0.9"/>
<path d="M196.8 857.8L199.0 853.8L201.2 857.8Z" fill="#fff" stroke="#000" stroke-width="0.9"/>
<path d="M150.0 866.0 L158.0 865.5 L166.0 866.0 L174.0 865.5 L182.0 866.0 L190.0 865.0 L198.0 865.5" fill="none" stroke="#000" stroke-width="2.0" stroke-linejoin="round" clip-path="url(#cC)"/>
<path d="M147.2 863.2L152.8 868.8M147.2 868.8L152.8 863.2M150.0 863.2L150.0 868.8" stroke="#000" stroke-width="1.2"/>
<path d="M155.2 862.7L160.8 868.3M155.2 868.3L160.8 862.7M158.0 862.7L158.0 868.3" stroke="#000" stroke-width="1.2"/>
<path d="M163.2 863.2L168.8 868.8M163.2 868.8L168.8 863.2M166.0 863.2L166.0 868.8" stroke="#000" stroke-width="1.2"/>
<path d="M171.2 862.7L176.8 868.3M171.2 868.3L176.8 862.7M174.0 862.7L174.0 868.3" stroke="#000" stroke-width="1.2"/>
<path d="M179.2 863.2L184.8 868.8M179.2 868.8L184.8 863.2M182.0 863.2L182.0 868.8" stroke="#000" stroke-width="1.2"/>
<path d="M187.2 862.2L192.8 867.8M187.2 867.8L192.8 862.2M190.0 862.2L190.0 867.8" stroke="#000" stroke-width="1.2"/>
<path d="M195.2 862.7L200.8 868.3M195.2 868.3L200.8 862.7M198.0 862.7L198.0 868.3" stroke="#000" stroke-width="1.2"/>
<text x="104.5" y="661.8" font-size="15" text-anchor="start" font-weight="bold" stroke="#000" stroke-width="0.25" >DIG001: 6531 at 0.38 y</text>
<rect x="437.7" y="657.7" width="80.80000000000001" height="153.0999999999999" stroke="#888" stroke-width="1.5" fill="#fff"/>
<line x1="441.5" y1="669.8" x2="458.5" y2="669.8" stroke="#000" stroke-width="1.3"/>
<path d="M447.4 669.8L450.0 667.2L452.6 669.8L450.0 672.4Z" fill="#000"/>
<text x="462.3" y="674.717" font-size="14.9" text-anchor="start" font-weight="bold" stroke="#000" stroke-width="0.25" >DIG001</text>
<line x1="441.5" y1="691.53" x2="458.5" y2="691.53" stroke="#000" stroke-width="1.3"/>
<rect x="447.6" y="689.1" width="4.8" height="4.8" fill="#999" stroke="#000" stroke-width="0.9"/>
<text x="462.3" y="696.447" font-size="14.9" text-anchor="start" font-weight="bold" stroke="#000" stroke-width="0.25" >DIG005</text>
<line x1="441.5" y1="713.26" x2="458.5" y2="713.26" stroke="#000" stroke-width="1.3"/>
<path d="M447.8 715.0L450.0 711.1L452.2 715.0Z" fill="#fff" stroke="#000" stroke-width="0.9"/>
<text x="462.3" y="718.177" font-size="14.9" text-anchor="start" font-weight="bold" stroke="#000" stroke-width="0.25" >DIG006</text>
<line x1="441.5" y1="734.99" x2="458.5" y2="734.99" stroke="#000" stroke-width="1.3"/>
<path d="M448.0 733.0L452.0 737.0M448.0 737.0L452.0 733.0" stroke="#000" stroke-width="1.3"/>
<text x="462.3" y="739.907" font-size="14.9" text-anchor="start" font-weight="bold" stroke="#000" stroke-width="0.25" >DIG007</text>
<line x1="441.5" y1="756.7199999999999" x2="458.5" y2="756.7199999999999" stroke="#000" stroke-width="1.3"/>
<path d="M447.2 756.7L450.0 753.9L452.8 756.7L450.0 759.5Z" fill="#5a5a5a" stroke="#000" stroke-width="0.9"/>
<text x="462.3" y="761.637" font-size="14.9" text-anchor="start" font-weight="bold" stroke="#000" stroke-width="0.25" >DIG009</text>
<line x1="441.5" y1="778.4499999999999" x2="458.5" y2="778.4499999999999" stroke="#000" stroke-width="1.3"/>
<path d="M447.0 780.8L450.0 775.4L453.0 780.8Z" fill="#fff" stroke="#000" stroke-width="1"/>
<text x="462.3" y="783.367" font-size="14.9" text-anchor="start" font-weight="bold" stroke="#000" stroke-width="0.25" >DIG010</text>
<line x1="441.5" y1="800.18" x2="458.5" y2="800.18" stroke="#000" stroke-width="1.8"/>
<path d="M447.2 797.4L452.8 803.0M447.2 803.0L452.8 797.4M450.0 797.4L450.0 803.0" stroke="#000" stroke-width="1.2"/>
<text x="462.3" y="805.097" font-size="14.9" text-anchor="start" font-weight="bold" stroke="#000" stroke-width="0.25" >DIG012</text>
</svg></body></html>
